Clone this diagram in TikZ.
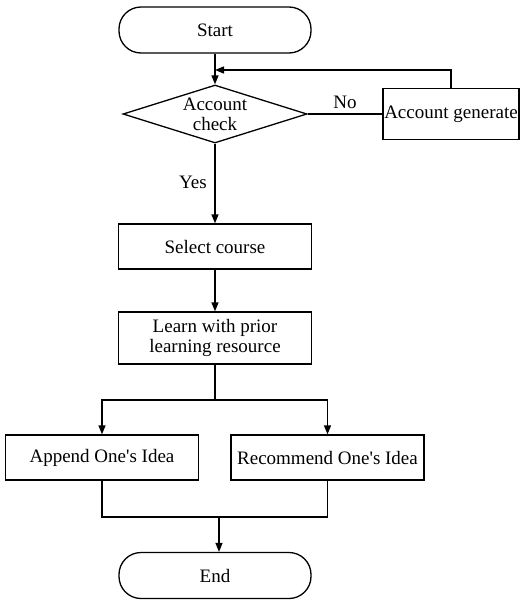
\documentclass[tikz,border=0pt]{standalone}
\usepackage{fontspec}
\setmainfont{Liberation Serif}
\usetikzlibrary{arrows.meta,shapes.geometric}
\begin{document}
\begin{tikzpicture}[x=1pt,y=-1pt,
  every node/.style={font=\fontsize{19}{20}\selectfont},
  line/.style={line width=1.3pt},
  arr/.style={line, -{Triangle[length=9pt,width=7pt]}},
  term/.style={line, draw, rectangle, rounded corners=22pt, minimum width=192pt, minimum height=46pt, inner sep=0pt},
  proc/.style={line, draw, rectangle, minimum width=193pt, minimum height=45pt, inner sep=0pt, align=center},
  dec/.style={line, draw, diamond, minimum width=184pt, minimum height=58pt, inner sep=0pt},
  txt/.style={align=center, inner sep=0pt}
]
\useasboundingbox (0,0) rectangle (524,600);
\node[term] (start) at (215,30) {Start};
\node[dec] (check) at (215,114) {};
\node[txt] (checktext) at (check) {Account\\check};
\node[proc, minimum width=136pt, minimum height=51pt] (gen) at (451,114) {Account generate};
\node[proc] (select) at (215,246.5) {Select course};
\node[proc, minimum height=52pt] (learn) at (215,338) {Learn with prior\\learning resource};
\node[proc] (append) at (102,457.5) {Append One\textquotesingle s Idea};
\node[proc] (recommend) at (327.5,457.5) {Recommend One\textquotesingle s Idea};
\node[term] (end) at (215,575.5) {End};
\coordinate (join) at (215,70);
\coordinate (split) at (215,400);
\coordinate (merge) at (219,517);

\draw[arr] (start) -- (check);
\draw[arr] (gen.north) |- (join);
\draw[line] (check.east) -- node[above, pos=0.5, yshift=1pt] (no) {No} (gen.west);
\draw[arr] (check.south) -- (select.north);
\node (yes) at (193,182) {Yes};
\draw[arr] (select) -- (learn);
\draw[line] (learn.south) -- (split);
\draw[arr] (split) -| (append.north);
\draw[arr] (split) -| (recommend.north);
\draw[line] (append.south) |- (merge) -| (recommend.south);
\draw[arr] (merge) -- (merge |- end.north);
\end{tikzpicture}
\end{document}
